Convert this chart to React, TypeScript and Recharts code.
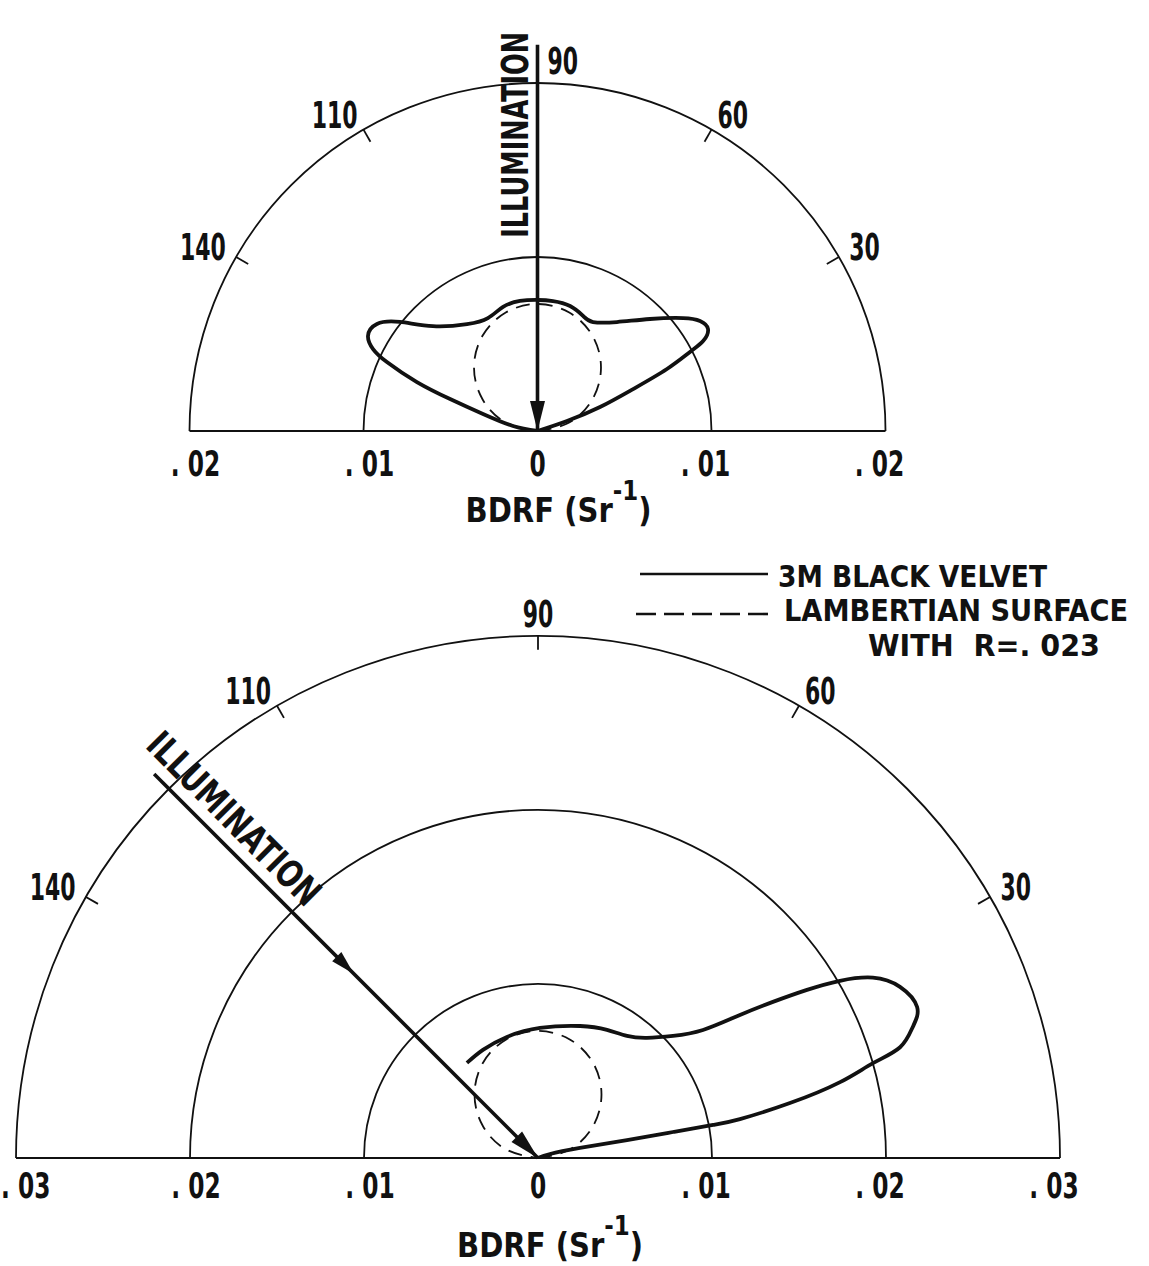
import React from "react";
import { ScatterChart, Scatter, XAxis, YAxis, ReferenceLine, Legend, Label } from "recharts";

const INK = "#111";
const FONT = "'DejaVu Sans Condensed', 'DejaVu Sans', sans-serif";

// upper plot: 3M black velvet, illumination at 90 deg (angle in deg, BDRF in sr^-1)
const topVelvetAngle = [0, 18.7, 21.0, 23.7, 25.6, 27.4, 28.5, 30.9, 34.1, 37.8, 44.9, 53.9, 63.0, 68.4, 75.4, 83.2, 90, 97.7, 105.5, 113.7, 123.4, 134.9, 141.6, 146.3, 150.7, 153.5, 155.4, 157.9, 159.9, 162.7, 168.5, 180];
const topVelvetBdrf = [0, 0.00179, 0.00385, 0.006, 0.00825, 0.00987, 0.01083, 0.01142, 0.01128, 0.01059, 0.00912, 0.00775, 0.00703, 0.00711, 0.00742, 0.00752, 0.00753, 0.00754, 0.0074, 0.00709, 0.00736, 0.00851, 0.01009, 0.01109, 0.01117, 0.01056, 0.00952, 0.00748, 0.00535, 0.00328, 0.00144, 0];

// lower plot: illumination at 135 deg
const bottomVelvetAngle = [126.8, 117.0, 104.4, 89.1, 72.3, 61.7, 53.9, 47.8, 42.1, 37.8, 35.3, 33.6, 32.0, 30.4, 28.3, 25.3, 21.7, 19.3, 17.0, 15.8, 14.1, 12.3, 10.9, 10.7, 10.9, 11.4, 13.4, 18.4, 0];
const bottomVelvetBdrf = [0.00682, 0.00697, 0.00718, 0.00747, 0.00796, 0.00836, 0.00868, 0.00932, 0.01046, 0.012, 0.01422, 0.01621, 0.01823, 0.02012, 0.02186, 0.02301, 0.02345, 0.02283, 0.02176, 0.02001, 0.0179, 0.01482, 0.01182, 0.01024, 0.0079, 0.00522, 0.00248, 0.00073, 0];

// lambertian surface, R = .023
const lambertAngle = [0, 15, 30, 45, 60, 75, 90, 105, 120, 135, 150, 165, 180];
const lambertBdrf = [0, 0.00189, 0.00365, 0.00516, 0.00632, 0.00705, 0.0073, 0.00705, 0.00632, 0.00516, 0.00365, 0.00189, 0];

const topRings = [0.01, 0.02];
const bottomRings = [0.01, 0.02, 0.03];
const topTicks = [-0.02, -0.01, 0, 0.01, 0.02];
const bottomTicks = [-0.03, -0.02, -0.01, 0, 0.01, 0.02, 0.03];
const angleTicks = [30, 60, 90, 120, 150];
const angleTickLabels = ["30", "60", "90", "110", "140"];
const illuminationAngle = { top: 90, bottom: 135 };
const illuminationReach = { top: 0.0222, bottom: 0.0312 };
const legendNames = ["3M BLACK VELVET", "LAMBERTIAN SURFACE", "WITH  R=. 023"];

const rad = (deg: number) => (deg * Math.PI) / 180;
const toXY = (angles: number[], bdrf: number[]) =>
  angles.map((a, i) => ({ x: bdrf[i] * Math.cos(rad(a)), y: bdrf[i] * Math.sin(rad(a)) }));

const fmt = (v: number) => (v === 0 ? "0" : `. ${String(Math.round(Math.abs(v) * 100)).padStart(2, "0")}`);

const noDot = () => <g />;

// narrow lettering like the original plot
const NarrowText = ({ x, y, anchor = "middle", size, squeeze = 0.72, children }: any) => (
  <text
    transform={`translate(${x} ${y}) scale(${squeeze} 1)`}
    textAnchor={anchor}
    fontSize={size}
    fontFamily={FONT}
    fontWeight="bold"
    fill={INK}
  >
    {children}
  </text>
);

const Arc = (p: any) => {
  const rx = p.x2 - p.x1;
  const ry = p.y1 - p.y2;
  return (
    <path
      d={`M${p.x1 - rx},${p.y1} A${rx},${ry} 0 0 1 ${p.x1 + rx},${p.y1}`}
      fill="none"
      stroke={INK}
      strokeWidth={1.8}
    />
  );
};

const angleTick = (label: string, angle: number, sideNinety: boolean) => (p: any) => {
  const c = Math.cos(rad(angle));
  const s = Math.sin(rad(angle));
  let tx = p.x2 + 12 * c;
  let ty = p.y2 - 12 * s + 9;
  let anchor = angle < 89 ? "start" : angle > 91 ? "end" : "middle";
  if (anchor === "middle") {
    ty = p.y2 - 9;
    if (sideNinety) {
      tx = p.x2 + 10;
      anchor = "start";
    }
  }
  return (
    <g>
      <line x1={p.x1} y1={p.y1} x2={p.x2} y2={p.y2} stroke={INK} strokeWidth={1.8} />
      <NarrowText x={tx} y={ty} anchor={anchor} size={37} squeeze={0.66}>
        {label}
      </NarrowText>
    </g>
  );
};

const arrow = (opt: { rotate: number; along: number; perp: number; textLength: number; midAt?: number }) => (p: any) => {
  const dx = p.x2 - p.x1;
  const dy = p.y2 - p.y1;
  const len = Math.hypot(dx, dy);
  const ux = dx / len;
  const uy = dy / len;
  const nx = uy;
  const ny = -ux;
  const head = (tx: number, ty: number, l: number, w: number) => {
    const bx = tx - ux * l;
    const by = ty - uy * l;
    return `${tx},${ty} ${bx + (nx * w) / 2},${by + (ny * w) / 2} ${bx - (nx * w) / 2},${by - (ny * w) / 2}`;
  };
  const sx = p.x1 + ux * opt.along + nx * opt.perp;
  const sy = p.y1 + uy * opt.along + ny * opt.perp;
  return (
    <g>
      <line x1={p.x1} y1={p.y1} x2={p.x2} y2={p.y2} stroke={INK} strokeWidth={3.6} />
      <polygon points={head(p.x2, p.y2, 30, 15)} fill={INK} />
      {opt.midAt ? <polygon points={head(p.x1 + dx * opt.midAt, p.y1 + dy * opt.midAt, 24, 13)} fill={INK} /> : null}
      <g transform={`translate(${sx} ${sy}) rotate(${opt.rotate}) scale(1 1.2)`}>
        <text
          x={0}
          y={0}
          textLength={opt.textLength}
          lengthAdjust="spacingAndGlyphs"
          fontSize={31}
          fontFamily={FONT}
          fontWeight="bold"
          fill={INK}
        >
          ILLUMINATION
        </text>
      </g>
    </g>
  );
};

const axisTick = (dy: number) => (props: any) => {
  const v = props.payload.value;
  const x = props.x - Math.sign(v) * 6;
  if (x < 30) {
    return (
      <NarrowText x={1} y={props.y + dy} anchor="start" size={36}>
        {fmt(v)}
      </NarrowText>
    );
  }
  return (
    <NarrowText x={x} y={props.y + dy} size={36}>
      {fmt(v)}
    </NarrowText>
  );
};

const axisTitle = (dy: number, shift: number) => (props: any) => {
  const vb = props.viewBox;
  const x = vb.x + vb.width / 2 + shift;
  const y = vb.y + dy;
  return (
    <text
      x={x}
      y={y}
      fontSize={33}
      fontFamily={FONT}
      fontWeight="bold"
      fill={INK}
      textLength={186}
      lengthAdjust="spacingAndGlyphs"
    >
      BDRF (Sr
      <tspan dy={-22} fontSize={26}>
        -1
      </tspan>
      <tspan dy={22}>)</tspan>
    </text>
  );
};

const legendText = (x: number, y: number, len: number, s: string) => (
  <text
    x={x}
    y={y}
    fontSize={30}
    fontFamily={FONT}
    fontWeight="bold"
    fill={INK}
    textLength={len}
    lengthAdjust="spacingAndGlyphs"
    style={{ whiteSpace: "pre" }}
  >
    {s}
  </text>
);

const renderLegend = () => (
  <svg width={529} height={130} style={{ display: "block" }}>
    <line x1={20} y1={24} x2={148} y2={24} stroke={INK} strokeWidth={2.6} />
    {legendText(158, 37, 269, legendNames[0])}
    <line x1={16} y1={64} x2={150} y2={64} stroke={INK} strokeWidth={2.6} strokeDasharray="20 8" />
    {legendText(164, 71, 344, legendNames[1])}
    {legendText(248, 106, 232, legendNames[2])}
  </svg>
);

const tickSegment = (angle: number, r: number) => [
  { x: (r - 0.0008) * Math.cos(rad(angle)), y: (r - 0.0008) * Math.sin(rad(angle)) },
  { x: r * Math.cos(rad(angle)), y: r * Math.sin(rad(angle)) },
];

const reachSegment = (angle: number, r: number) => [
  { x: r * Math.cos(rad(angle)), y: r * Math.sin(rad(angle)) },
  { x: 0, y: 0 },
];

export default function App() {
  const topVelvet = toXY(topVelvetAngle, topVelvetBdrf);
  const bottomVelvet = toXY(bottomVelvetAngle, bottomVelvetBdrf);
  const lambert = toXY(lambertAngle, lambertBdrf);

  return (
    <div style={{ position: "absolute", left: 0, top: 0, width: 1149, height: 1266, background: "#fff" }}>
      <div style={{ position: "absolute", left: 0, top: 0 }}>
        <ScatterChart width={1149} height={540} margin={{ top: 39.5, right: 263.5, bottom: 49, left: 189.5 }}>
          <XAxis
            type="number"
            dataKey="x"
            domain={[-0.02, 0.02]}
            ticks={topTicks}
            interval={0}
            allowDataOverflow
            height={60}
            tickLine={false}
            tickSize={0}
            tickMargin={0}
            axisLine={{ stroke: INK, strokeWidth: 2.2 }}
            tick={axisTick(45)}
          >
            <Label content={axisTitle(91, -72)} />
          </XAxis>
          <YAxis type="number" dataKey="y" domain={[0, 0.0225]} allowDataOverflow hide />
          {topRings.map((r) => (
            <ReferenceLine key={r} segment={[{ x: 0, y: 0 }, { x: r, y: r }]} shape={Arc} ifOverflow="visible" />
          ))}
          {angleTicks.map((a, i) => (
            <ReferenceLine
              key={a}
              segment={tickSegment(a, 0.02)}
              shape={angleTick(angleTickLabels[i], a, true)}
              ifOverflow="visible"
            />
          ))}
          <Scatter
            name="LAMBERTIAN SURFACE WITH R=.023"
            data={lambert}
            fill={INK}
            shape={noDot}
            line={{ stroke: INK, strokeWidth: 1.8, strokeDasharray: "14 9" }}
            lineJointType="natural"
            isAnimationActive={false}
          />
          <Scatter
            name="3M BLACK VELVET"
            data={topVelvet}
            fill={INK}
            shape={noDot}
            line={{ stroke: INK, strokeWidth: 3.8 }}
            lineJointType="natural"
            isAnimationActive={false}
          />
          <ReferenceLine
            segment={reachSegment(illuminationAngle.top, illuminationReach.top)}
            shape={arrow({ rotate: -90, along: 193, perp: -10, textLength: 206 })}
            ifOverflow="visible"
          />
        </ScatterChart>
      </div>

      <div style={{ position: "absolute", left: 0, top: 540 }}>
        <ScatterChart width={1149} height={726} margin={{ top: 61, right: 89, bottom: 48, left: 16 }}>
          <XAxis
            type="number"
            dataKey="x"
            domain={[-0.03, 0.03]}
            ticks={bottomTicks}
            interval={0}
            allowDataOverflow
            height={60}
            tickLine={false}
            tickSize={0}
            tickMargin={0}
            axisLine={{ stroke: INK, strokeWidth: 2.2 }}
            tick={axisTick(40)}
          >
            <Label content={axisTitle(99, -81)} />
          </XAxis>
          <YAxis type="number" dataKey="y" domain={[0, 0.032]} allowDataOverflow hide />
          {bottomRings.map((r) => (
            <ReferenceLine key={r} segment={[{ x: 0, y: 0 }, { x: r, y: r }]} shape={Arc} ifOverflow="visible" />
          ))}
          {angleTicks.map((a, i) => (
            <ReferenceLine
              key={a}
              segment={tickSegment(a, 0.03)}
              shape={angleTick(angleTickLabels[i], a, false)}
              ifOverflow="visible"
            />
          ))}
          <Scatter
            name="LAMBERTIAN SURFACE WITH R=.023"
            data={lambert}
            fill={INK}
            shape={noDot}
            line={{ stroke: INK, strokeWidth: 1.8, strokeDasharray: "14 9" }}
            lineJointType="natural"
            isAnimationActive={false}
          />
          <Scatter
            name="3M BLACK VELVET"
            data={bottomVelvet}
            fill={INK}
            shape={noDot}
            line={{ stroke: INK, strokeWidth: 3.8 }}
            lineJointType="natural"
            isAnimationActive={false}
          />
          <ReferenceLine
            segment={reachSegment(illuminationAngle.bottom, illuminationReach.bottom)}
            shape={arrow({ rotate: 45, along: -26, perp: 12, textLength: 228, midAt: 0.52 })}
            ifOverflow="visible"
          />
          <Legend
            layout="vertical"
            align="center"
            verticalAlign="middle"
            content={renderLegend}
            wrapperStyle={{ position: "absolute", left: 620, top: 10, width: 529, height: 130 }}
          />
        </ScatterChart>
      </div>
    </div>
  );
}
